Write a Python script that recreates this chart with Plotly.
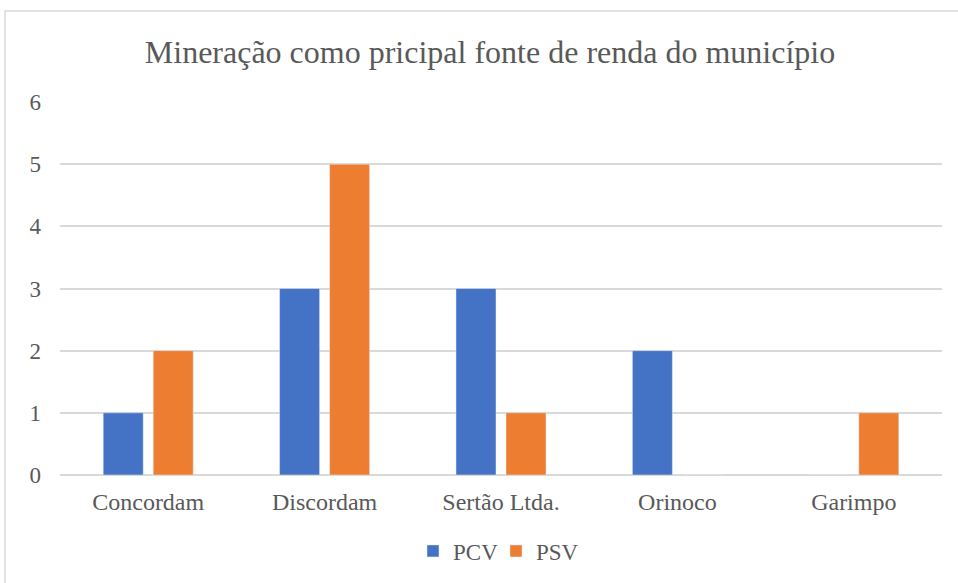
import plotly.graph_objects as go

categories = ["Concordam", "Discordam", "Sertão Ltda.", "Orinoco", "Garimpo"]
pcv = [1, 3, 3, 2, 0]
psv = [2, 5, 1, 0, 1]
title_text = "Mineração como pricipal fonte de renda do município"

FONT = "Liberation Serif"
TXT = "#595959"
GRID = "#D9D9D9"

fig = go.Figure()
fig.add_trace(go.Bar(name="PCV", x=categories, y=pcv, marker_color="#4472C4"))
fig.add_trace(go.Bar(name="PSV", x=categories, y=psv, marker_color="#ED7D31"))

fig.update_layout(
    width=958, height=583,
    margin=dict(l=60, r=16, t=102, b=108, autoexpand=False),
    paper_bgcolor="white", plot_bgcolor="white",
    barmode="group", bargap=0.433, bargroupgap=0.2,
    font=dict(family=FONT, color=TXT, size=23),
    title=dict(text=title_text, x=490/958, xanchor="center", y=1-52/583, yanchor="middle",
               font=dict(family=FONT, size=32, color=TXT)),
    showlegend=True,
    legend=dict(orientation="h", x=(496-60)/882, xanchor="center", y=(475-551)/373, yanchor="middle",
                font=dict(family=FONT, size=23, color=TXT), itemwidth=30, entrywidth=38,
                traceorder="normal"),
    xaxis=dict(showgrid=False, showline=False, ticks="", ticklabelstandoff=10,
               tickfont=dict(family=FONT, size=24, color=TXT)),
    yaxis=dict(range=[0, 6], dtick=1, showgrid=True, gridcolor=GRID, gridwidth=1.5,
               zeroline=True, zerolinecolor=GRID, zerolinewidth=1.5, showline=False,
               ticks="", tickfont=dict(family=FONT, size=23, color=TXT), ticklabelstandoff=18),
    shapes=[dict(type="rect", xref="paper", yref="paper",
                 x0=(5-60)/882, x1=1.2, y0=-0.6, y1=(475-11)/373,
                 line=dict(color=GRID, width=1.5), fillcolor="rgba(0,0,0,0)", layer="below")],
)

fig.write_html("out.html", config={"displayModeBar": False},
               post_script="document.body.style.margin='0';")
